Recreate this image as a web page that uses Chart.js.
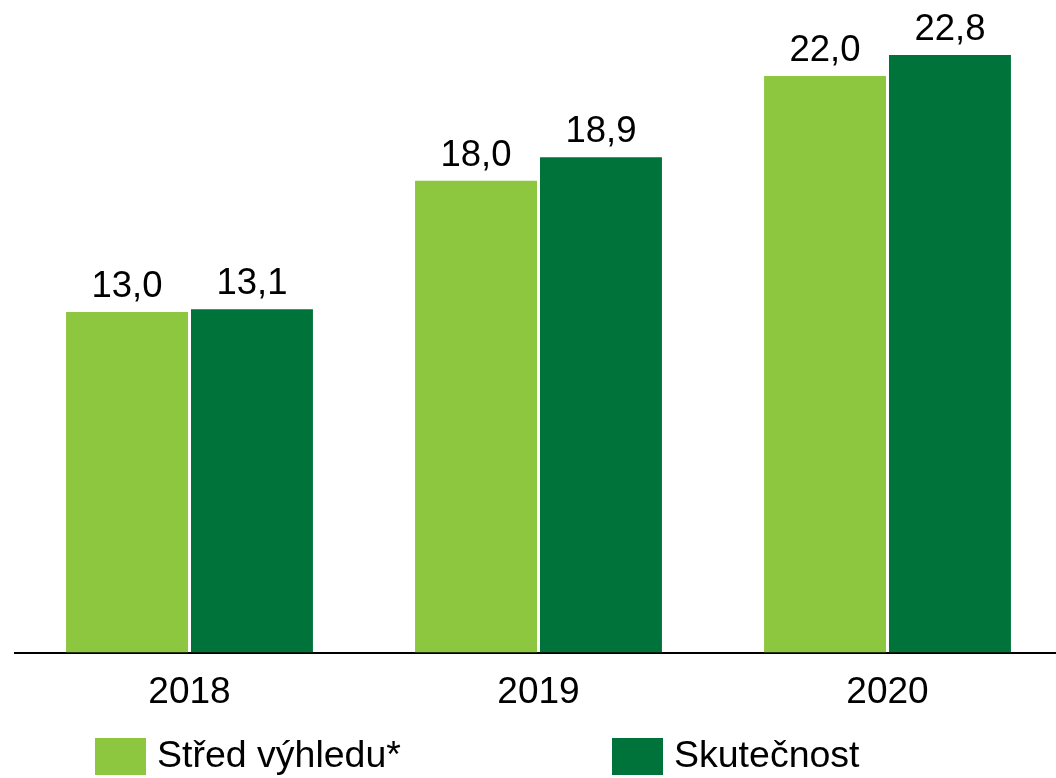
<!DOCTYPE html>
<html>
<head>
<meta charset="utf-8">
<script src="https://cdn.jsdelivr.net/npm/chart.js@4"></script>
<style>
  html, body { margin: 0; padding: 0; background: #fff; overflow: hidden; }
  #wrap { width: 1062px; height: 778px; }
</style>
</head>
<body>
<div id="wrap"><canvas id="graf" width="1062" height="778"></canvas></div>
<script>
const roky = ["2018", "2019", "2020"];
const stredVyhledu = [13.0, 18.0, 22.0];
const skutecnost = [13.1, 18.9, 22.8];
const nazvyRad = ["Střed výhledu*", "Skutečnost"];

const pismo = '"Liberation Sans", Arial, sans-serif';

// popisky hodnot nad sloupci
const hodnotyPlugin = {
    id: "hodnoty",
    afterDatasetsDraw(chart) {
        const ctx = chart.ctx;
        ctx.save();
        ctx.font = "36.5px " + pismo;
        ctx.fillStyle = "#000";
        ctx.textAlign = "center";
        ctx.textBaseline = "alphabetic";
        chart.data.datasets.forEach((ds, i) => {
            chart.getDatasetMeta(i).data.forEach((bar, j) => {
                const txt = ds.data[j].toFixed(1).replace(".", ",");
                ctx.fillText(txt, bar.x, bar.y - 15);
            });
        });
        ctx.restore();
    },
};

// legenda dole
const legendaPlugin = {
    id: "legenda",
    afterDraw(chart, args, opts) {
        const ctx = chart.ctx;
        ctx.save();
        ctx.font = "37.5px " + pismo;
        ctx.textBaseline = "middle";
        ctx.textAlign = "left";
        chart.data.datasets.forEach((ds, i) => {
            const x = opts.xs[i];
            ctx.fillStyle = ds.backgroundColor;
            ctx.fillRect(x, opts.y, 51, 37);
            ctx.fillStyle = "#000";
            ctx.fillText(ds.label, x + 62, opts.y + 19);
        });
        ctx.restore();
    },
};

new Chart(document.getElementById("graf"), {
    type: "bar",
    data: {
        labels: roky,
        datasets: [
            {
                label: nazvyRad[0],
                data: stredVyhledu,
                backgroundColor: "#8dc63f",
                categoryPercentage: 0.716,
                barPercentage: 0.976,
            },
            {
                label: nazvyRad[1],
                data: skutecnost,
                backgroundColor: "#00733a",
                categoryPercentage: 0.716,
                barPercentage: 0.976,
            },
        ],
    },
    options: {
        responsive: false,
        animation: false,
        layout: { padding: { left: 15, right: 0, top: 0, bottom: 45 } },
        plugins: {
            legend: { display: false },
            tooltip: { enabled: false },
            legenda: { xs: [95, 612], y: 738 },
        },
        scales: {
            x: {
                grid: { display: false, drawTicks: false },
                border: { display: true, color: "#000", width: 2 },
                ticks: { color: "#000", font: { size: 37, family: pismo }, padding: 18 },
            },
            y: {
                display: false,
                min: 0,
                max: 24.9,
            },
        },
    },
    plugins: [hodnotyPlugin, legendaPlugin],
});
</script>
</body>
</html>
